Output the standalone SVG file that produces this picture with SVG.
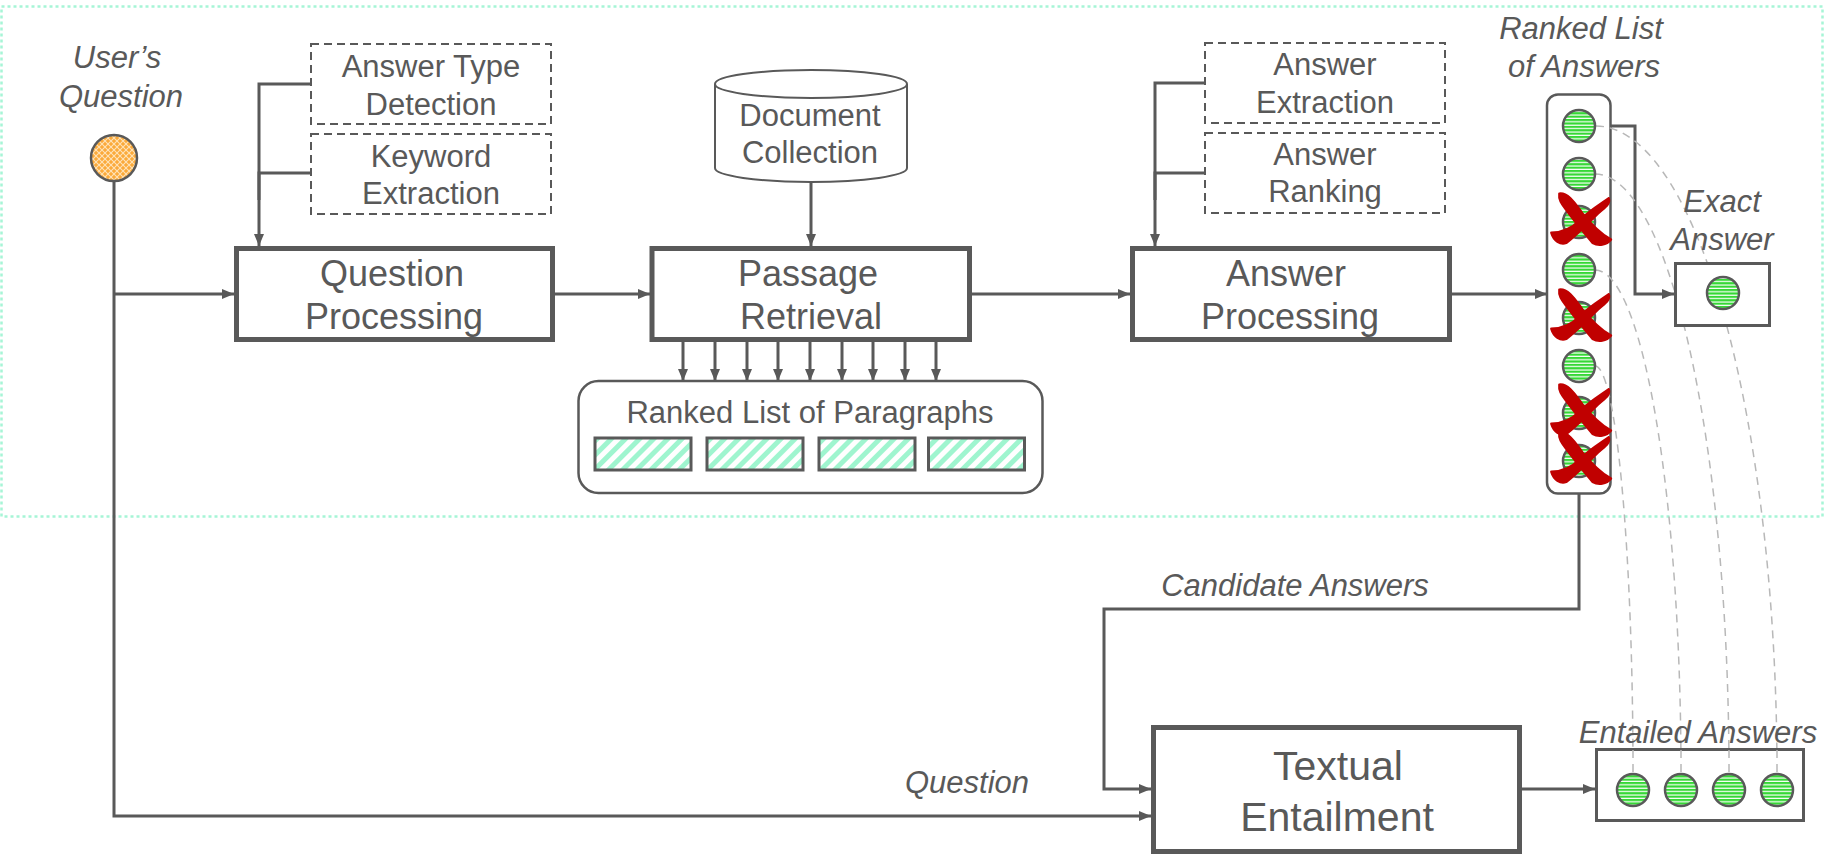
<svg xmlns="http://www.w3.org/2000/svg" width="1825" height="864" viewBox="0 0 1825 864">
  <style>
    .txt { font-family: "Liberation Sans", Arial, sans-serif; fill: #595959; text-anchor: middle; }
    .lbl { font-size: 31px; }
    .big { font-size: 36px; }
    .it { font-style: italic; font-size: 31px; }
    .main { fill: #ffffff; stroke: #595959; stroke-width: 5; }
    .dash { fill: #ffffff; stroke: #595959; stroke-width: 2; stroke-dasharray: 8 5; }
    .thin { fill: #ffffff; stroke: #595959; stroke-width: 2.5; }
    .wire { fill: none; stroke: #595959; stroke-width: 3; }
    .link { fill: none; stroke: #595959; stroke-width: 3; marker-end: url(#arrow); }
    .trace { fill: none; stroke: #b8b8b8; stroke-width: 1.5; stroke-dasharray: 8 6; }
    .ans { fill: url(#greenStripes); stroke: #595959; stroke-width: 2.5; }
    .cross { fill: #c00000; stroke: #c00000; stroke-width: 2; stroke-linejoin: round; }
    .para { fill: url(#tealStripes); stroke: #595959; stroke-width: 3; }
  </style>
  <defs>
    <marker id="arrow" viewBox="0 0 12 10" refX="12" refY="5" markerWidth="12" markerHeight="10" markerUnits="userSpaceOnUse" orient="auto">
      <path d="M0,0 L12,5 L0,10 Z" fill="#595959"/>
    </marker>
    <pattern id="greenStripes" width="8" height="3.4" patternUnits="userSpaceOnUse">
      <rect width="8" height="3.4" fill="#ffffff"/>
      <rect width="8" height="2.2" fill="#35d835"/>
    </pattern>
    <pattern id="tealStripes" width="10" height="10" patternUnits="userSpaceOnUse" patternTransform="rotate(45)">
      <rect width="10" height="10" fill="#ffffff"/>
      <rect width="5" height="10" fill="#9ff5cf"/>
    </pattern>
    <pattern id="orangeHatch" width="6" height="6" patternUnits="userSpaceOnUse">
      <rect width="6" height="6" fill="#fbaa3a"/>
      <path d="M0,0 L6,6 M6,0 L0,6" stroke="#ffe3b8" stroke-width="1.1"/>
    </pattern>
    <!-- brush-stroke cross used to strike out rejected answers -->
    <g id="xmark">
      <path class="cross" d="M-18,-23 C-10,-24 -4,-14 2,-6 C10,4 18,12 27,17 C23,22 16,23 11,20 C4,12 -4,2 -10,-6 C-14,-12 -19,-16 -18,-23 Z"/>
      <path class="cross" d="M25,-19 C18,-14 8,-8 0,0 C-8,8 -16,11 -25,11 C-23,18 -17,22 -12,20 C-4,14 6,4 14,-4 C20,-10 27,-13 25,-19 Z"/>
    </g>
  </defs>

  <!-- dotted frame around the QA pipeline -->
  <rect x="1.5" y="6.5" width="1821" height="510" fill="none" stroke="#a6f5d6" stroke-width="2.5" stroke-dasharray="3 3"/>

  <!-- connectors -->
  <g id="connectors">
    <path class="link" d="M114,182 V816 H1151"/>
    <path class="link" d="M114,294 H234"/>
    <path class="wire" d="M311,84 H259 V200"/>
    <path class="link" d="M311,173 H259 V246"/>
    <path class="link" d="M811,182 V246"/>
    <path class="link" d="M555,294 H650"/>
    <path class="link" d="M972,294 H1130"/>
    <path class="wire" d="M1205,83 H1155 V200"/>
    <path class="link" d="M1205,173 H1155 V246"/>
    <path class="link" d="M1452,294 H1547"/>
    <path class="link" d="M683,342 V381"/>
    <path class="link" d="M715,342 V381"/>
    <path class="link" d="M747,342 V381"/>
    <path class="link" d="M778,342 V381"/>
    <path class="link" d="M810,342 V381"/>
    <path class="link" d="M842,342 V381"/>
    <path class="link" d="M873,342 V381"/>
    <path class="link" d="M905,342 V381"/>
    <path class="link" d="M936,342 V381"/>
    <path class="link" d="M1595,126 H1635 V294 H1674"/>
    <path class="link" d="M1579,494 V609 H1104 V789 H1151"/>
    <path class="link" d="M1522,789 H1595"/>
  </g>

  <!-- user's question -->
  <g id="user-question">
    <text class="txt it" x="117" y="68">User’s</text>
    <text class="txt it" x="121" y="107">Question</text>
    <circle cx="114" cy="158" r="23" fill="url(#orangeHatch)" stroke="#595959" stroke-width="2.5"/>
  </g>

  <g id="answer-type-detection">
    <rect class="dash" x="311" y="44" width="240" height="80"/>
    <text class="txt lbl" x="431" y="77">Answer Type</text>
    <text class="txt lbl" x="431" y="115">Detection</text>
  </g>
  <g id="keyword-extraction">
    <rect class="dash" x="311" y="134" width="240" height="80"/>
    <text class="txt lbl" x="431" y="167">Keyword</text>
    <text class="txt lbl" x="431" y="204">Extraction</text>
  </g>

  <g id="question-processing">
    <rect class="main" x="236.5" y="248.5" width="316" height="91"/>
    <text class="txt big" x="392" y="286">Question</text>
    <text class="txt big" x="394" y="329">Processing</text>
  </g>

  <g id="document-collection">
    <path d="M715,84 V168 A96,14 0 0 0 907,168 V84" fill="#ffffff" stroke="#595959" stroke-width="2"/>
    <ellipse cx="811" cy="84" rx="96" ry="14" fill="#ffffff" stroke="#595959" stroke-width="2"/>
    <text class="txt lbl" x="810" y="126">Document</text>
    <text class="txt lbl" x="810" y="163">Collection</text>
  </g>

  <g id="passage-retrieval">
    <rect class="main" x="652" y="248.5" width="317.5" height="91"/>
    <text class="txt big" x="808" y="286">Passage</text>
    <text class="txt big" x="811" y="329">Retrieval</text>
  </g>

  <g id="ranked-paragraphs">
    <rect class="thin" x="578.5" y="381" width="464" height="112" rx="20"/>
    <text class="txt lbl" x="810" y="423">Ranked List of Paragraphs</text>
    <rect class="para" x="595" y="438" width="96" height="32"/>
    <rect class="para" x="707" y="438" width="96" height="32"/>
    <rect class="para" x="819" y="438" width="96" height="32"/>
    <rect class="para" x="928.5" y="438" width="96" height="32"/>
  </g>

  <g id="answer-extraction">
    <rect class="dash" x="1205" y="43" width="240" height="80"/>
    <text class="txt lbl" x="1325" y="75">Answer</text>
    <text class="txt lbl" x="1325" y="113">Extraction</text>
  </g>
  <g id="answer-ranking">
    <rect class="dash" x="1205" y="133" width="240" height="80"/>
    <text class="txt lbl" x="1325" y="165">Answer</text>
    <text class="txt lbl" x="1325" y="202">Ranking</text>
  </g>

  <g id="answer-processing">
    <rect class="main" x="1132.5" y="248.5" width="317" height="91"/>
    <text class="txt big" x="1286" y="286">Answer</text>
    <text class="txt big" x="1290" y="329">Processing</text>
  </g>

  <!-- ranked list of candidate answers -->
  <g id="ranked-answers">
    <text class="txt it" x="1581" y="39">Ranked List</text>
    <text class="txt it" x="1584" y="77">of Answers</text>
    <rect class="thin" x="1547" y="94.5" width="63.5" height="399" rx="11"/>
  </g>

  <!-- answers kept by entailment -->
  <g id="traces">
    <path class="trace" d="M1596,126 A181,648 0 0 1 1777,774"/>
    <path class="trace" d="M1595,174 A134,600 0 0 1 1729,774"/>
    <path class="trace" d="M1595,270 A86,504 0 0 1 1681,774"/>
    <path class="trace" d="M1595,366 A38,408 0 0 1 1633,774"/>
  </g>

  <g id="answer-items">
    <circle class="ans" cx="1579" cy="126" r="16"/>
    <circle class="ans" cx="1579" cy="174" r="16"/>
    <circle class="ans" cx="1579" cy="222" r="16"/>
    <circle class="ans" cx="1579" cy="270" r="16"/>
    <circle class="ans" cx="1579" cy="318" r="16"/>
    <circle class="ans" cx="1579" cy="366" r="16"/>
    <circle class="ans" cx="1579" cy="413" r="16"/>
    <circle class="ans" cx="1579" cy="461" r="16"/>
  </g>

  <!-- rejected answers -->
  <g id="rejections">
    <use href="#xmark" transform="translate(1580,220) scale(1.15)"/>
    <use href="#xmark" transform="translate(1580,316) scale(1.15)"/>
    <use href="#xmark" transform="translate(1580,411) scale(1.15)"/>
    <use href="#xmark" transform="translate(1580,459) scale(1.15)"/>
  </g>

  <g id="exact-answer">
    <text class="txt it" x="1722" y="212">Exact</text>
    <text class="txt it" x="1722" y="250">Answer</text>
    <rect x="1675.5" y="263.5" width="94" height="62" fill="#ffffff" stroke="#595959" stroke-width="3"/>
    <circle class="ans" cx="1723" cy="293" r="16"/>
  </g>

  <g id="labels">
    <text class="txt it" x="1295" y="596">Candidate Answers</text>
    <text class="txt it" x="967" y="793">Question</text>
  </g>

  <g id="textual-entailment">
    <rect class="main" x="1153.5" y="727.5" width="366" height="124"/>
    <text class="txt" style="font-size:41px" x="1338" y="780">Textual</text>
    <text class="txt" style="font-size:41px" x="1337" y="831">Entailment</text>
  </g>

  <g id="entailed-answers">
    <text class="txt it" x="1698" y="743">Entailed Answers</text>
    <rect x="1596.5" y="749.5" width="207" height="71" fill="#ffffff" stroke="#595959" stroke-width="3"/>
    <path class="trace" d="M1633,750 V774 M1681,750 V774 M1729,750 V774 M1777,750 V774"/>
    <circle class="ans" cx="1633" cy="790" r="16"/>
    <circle class="ans" cx="1681" cy="790" r="16"/>
    <circle class="ans" cx="1729" cy="790" r="16"/>
    <circle class="ans" cx="1777" cy="790" r="16"/>
  </g>
</svg>
